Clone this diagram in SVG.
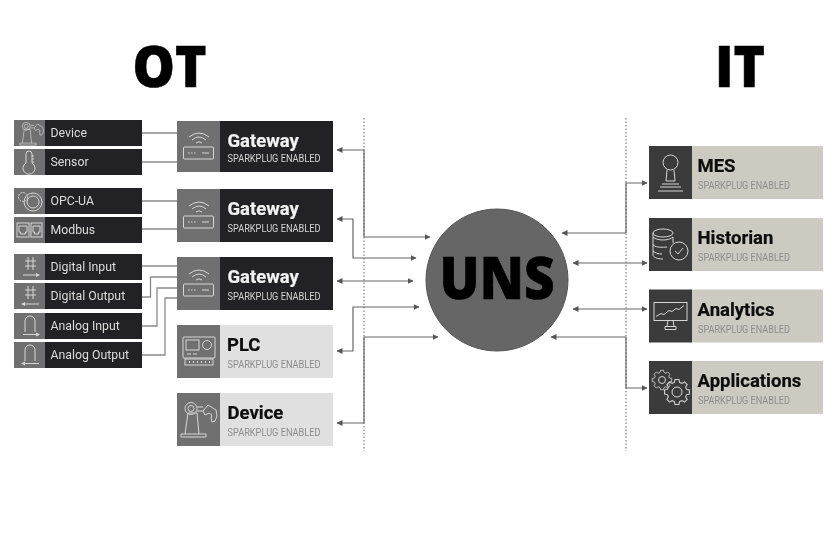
<svg xmlns="http://www.w3.org/2000/svg" xmlns:xlink="http://www.w3.org/1999/xlink" width="840" height="540" viewBox="0 0 840 540">
<style>
text{font-family:Roboto,"Liberation Sans",sans-serif}
.head{font-family:"Open Sans","Noto Sans","Liberation Sans",sans-serif;font-weight:800;font-size:56px;fill:#000;stroke:#000;stroke-width:.6}
.uns{font-size:58px}
.lbl{font-size:12.3px;fill:#dcdcdc}
.ttl{font-size:18.5px;font-weight:700;stroke-width:.2}
.sub{font-size:10px}
.dk .ttl{fill:#f2f2f2;stroke:#f2f2f2}.dk .sub{fill:#d4d4d4}
.lt .ttl,.it .ttl{fill:#0a0a0a;stroke:#0a0a0a}.lt .sub,.it .sub{fill:#8c8c8c}
.ic{fill:none;stroke:#d6d6d6;stroke-width:1}
.ib{fill:#707070}.tb{fill:#232326}.lg{fill:#e0e0e0}.ibi{fill:#3b3b3b}.ig{fill:#cdcbc1}
.wire{fill:none;stroke:#8a8a8a;stroke-width:1.300}
.arw{fill:none;stroke:#666;stroke-width:1.200;marker-end:url(#ah)}
.bi{marker-start:url(#ahs)}
.dot{fill:none;stroke:#666;stroke-width:1;stroke-dasharray:1.500 2}
</style>
<defs>
<filter id="soft" x="0" y="0" width="100%" height="100%"><feGaussianBlur stdDeviation="0.35"/></filter>
<marker id="ah" markerUnits="userSpaceOnUse" markerWidth="7" markerHeight="7" refX="5.500" refY="3" orient="auto"><path d="M0 0L6 3L0 6Z" fill="#555"/></marker>
<marker id="ahs" markerUnits="userSpaceOnUse" markerWidth="7" markerHeight="7" refX="0.500" refY="3" orient="auto"><path d="M6 0L0 3L6 6Z" fill="#555"/></marker>
<g id="router" class="ic">
<path d="M12 17Q22 9 32 17M15 20Q22 14 29 20M19 23Q22 20.500 25 23"/>
<rect x="6.500" y="27" width="30" height="12" rx="1"/>
<path d="M11 33h1.500M14 33h1.500M17 33h1.500M25 33h7"/>
</g>
<g id="arm" class="ic">
<path d="M1 35h25v-3H1zM5 32l3-21M19 32l-2-21M8 11h9"/>
<circle cx="11" cy="6.500" r="6"/><circle cx="11" cy="6.500" r="3"/>
<path d="M17 5h6M17 9h6"/>
<path d="M28 3l8 5 1 6-2 5-3 1-1-4 1-3-3-2-4 2-2-4z"/>
</g>
<path id="gear" d="M9.180 -2.460 11.850 -1.880 11.850 1.880 9.180 2.460 8.230 4.750 9.710 7.050 7.050 9.710 4.750 8.230 2.460 9.180 1.880 11.850 -1.880 11.850 -2.460 9.180 -4.750 8.230 -7.050 9.710 -9.710 7.050 -8.230 4.750 -9.180 2.460 -11.850 1.880 -11.850 -1.880 -9.180 -2.460 -8.230 -4.750 -9.710 -7.050 -7.050 -9.710 -4.750 -8.230 -2.460 -9.180 -1.880 -11.850 1.880 -11.850 2.460 -9.180 4.750 -8.230 7.050 -9.710 9.710 -7.050 8.230 -4.750Z"/>
<g id="digit" class="ic"><path d="M14 3v13M19 3v13M11 7h11M11 12h11"/></g>
<g id="arch" class="ic"><path d="M11 20V9a5 5 0 0 1 10 0V20"/></g>
</defs>
<rect width="840" height="540" fill="#fff"/>
<g filter="url(#soft)">
<text class="head" x="132.500" y="87" textLength="74" lengthAdjust="spacingAndGlyphs">OT</text>
<text class="head" x="715" y="87" textLength="50" lengthAdjust="spacingAndGlyphs">IT</text>

<g id="connectors">
<path class="dot" d="M364 118V451M626 118V451"/>
<path class="wire" d="M142 133H177M142 162H177M142 201H177M142 229H177M142 266H177M142 297H150.500V277H177M142 326H157V288H177M142 355H165V298H177"/>
<path class="arw" d="M364 237H430"/>
<path class="arw" d="M364 237V150H337"/>
<path class="arw bi" d="M337 219H353V258H416"/>
<path class="arw bi" d="M337 281H413"/>
<path class="arw bi" d="M337 351H353V307H419"/>
<path class="arw" d="M364 337H438"/>
<path class="arw" d="M364 337V423H337"/>
<path class="arw" d="M626 233H562"/>
<path class="arw" d="M626 233V183H647"/>
<path class="arw bi" d="M573 263H647"/>
<path class="arw bi" d="M573 309H647"/>
<path class="arw" d="M626 337H551"/>
<path class="arw" d="M626 337V388H647"/>
</g>

<g id="n-device-s" transform="translate(14 120)"><rect class="ib" width="31" height="26"/><rect class="tb" x="31" width="97" height="26"/>
<g transform="translate(5 2) scale(.66)"><use href="#arm"/></g><text class="lbl" x="36.500" y="17.200">Device</text></g>
<g id="n-sensor" transform="translate(14 149)"><rect class="ib" width="31" height="26"/><rect class="tb" x="31" width="97" height="26"/>
<path class="ic" d="M12 14V5a3 3 0 0 1 6 0V14a6 6 0 1 1-6 0zM18 7h2M18 10h2M18 13h2"/><text class="lbl" x="36.500" y="17.200">Sensor</text></g>
<g id="n-opcua" transform="translate(14 188)"><rect class="ib" width="31" height="26"/><rect class="tb" x="31" width="97" height="26"/>
<g class="ic"><circle cx="19" cy="14" r="9"/><circle cx="19" cy="14" r="6"/><circle cx="9" cy="9" r="4.500" stroke-dasharray="2 1"/></g><text class="lbl" x="36.500" y="17.200">OPC-UA</text></g>
<g id="n-modbus" transform="translate(14 217)"><rect class="ib" width="31" height="26"/><rect class="tb" x="31" width="97" height="26"/>
<g class="ic"><rect x="3" y="6" width="12" height="14"/><rect x="17" y="6" width="11" height="14"/><path d="M5 9h8v6h-1.500v2h-5v-2H5zM19 9h7v6h-1.500v2h-4v-2H19z"/></g><text class="lbl" x="36.500" y="17.200">Modbus</text></g>
<g id="n-di" transform="translate(14 254)"><rect class="ib" width="31" height="26"/><rect class="tb" x="31" width="97" height="26"/>
<use href="#digit"/><path class="ic" d="M9 21H23"/><path d="M22 19l4 2-4 2z" fill="#d6d6d6"/><text class="lbl" x="36.500" y="17.200">Digital Input</text></g>
<g id="n-do" transform="translate(14 283)"><rect class="ib" width="31" height="26"/><rect class="tb" x="31" width="97" height="26"/>
<use href="#digit"/><path class="ic" d="M11 21H25"/><path d="M11 19l-4 2 4 2z" fill="#d6d6d6"/><text class="lbl" x="36.500" y="17.200">Digital Output</text></g>
<g id="n-ai" transform="translate(14 313)"><rect class="ib" width="31" height="26"/><rect class="tb" x="31" width="97" height="26"/>
<use href="#arch" transform="translate(0 -1)"/><path class="ic" d="M9 21.500H23"/><path d="M22 19.500l4 2-4 2z" fill="#d6d6d6"/><text class="lbl" x="36.500" y="17.200">Analog Input</text></g>
<g id="n-ao" transform="translate(14 342)"><rect class="ib" width="31" height="26"/><rect class="tb" x="31" width="97" height="26"/>
<use href="#arch" transform="translate(0 -1)"/><path class="ic" d="M11 21.500H25"/><path d="M11 19.500l-4 2 4 2z" fill="#d6d6d6"/><text class="lbl" x="36.500" y="17.200">Analog Output</text></g>

<g id="n-gw1" class="dk" transform="translate(177 121)"><rect class="ib" width="43" height="51"/><rect class="tb" x="43" width="113" height="51"/><use href="#router" transform="translate(0 -1)"/>
<text class="ttl" x="50.500" y="26">Gateway</text><text class="sub" x="50.500" y="40.500" textLength="93" lengthAdjust="spacingAndGlyphs">SPARKPLUG ENABLED</text></g>
<g id="n-gw2" class="dk" transform="translate(177 189)"><rect class="ib" width="43" height="53"/><rect class="tb" x="43" width="113" height="53"/><use href="#router"/>
<text class="ttl" x="50.500" y="26">Gateway</text><text class="sub" x="50.500" y="43" textLength="93" lengthAdjust="spacingAndGlyphs">SPARKPLUG ENABLED</text></g>
<g id="n-gw3" class="dk" transform="translate(177 257)"><rect class="ib" width="43" height="53"/><rect class="tb" x="43" width="113" height="53"/><use href="#router"/>
<text class="ttl" x="50.500" y="26">Gateway</text><text class="sub" x="50.500" y="43" textLength="93" lengthAdjust="spacingAndGlyphs">SPARKPLUG ENABLED</text></g>
<g id="n-plc" class="lt" transform="translate(177 325)"><rect class="ib" width="43" height="53"/><rect class="lg" x="43" width="113" height="53"/>
<g class="ic"><rect x="6" y="12" width="32" height="21" rx="1"/><rect x="9" y="15" width="13" height="10"/><circle cx="30" cy="20" r="4.500"/><path d="M10 29h4M16 29h4"/><rect x="8" y="34" width="28" height="6"/><path d="M12 37h1M16 37h1M20 37h1M24 37h1M28 37h1M32 37h1" stroke-width="2"/></g>
<text class="ttl" x="50" y="26">PLC</text><text class="sub" x="50.500" y="43" textLength="93" lengthAdjust="spacingAndGlyphs">SPARKPLUG ENABLED</text></g>
<g id="n-device" class="lt" transform="translate(177 393)"><rect class="ib" width="43" height="53"/><rect class="lg" x="43" width="113" height="53"/>
<use href="#arm" transform="translate(3 9)"/>
<text class="ttl" x="50.500" y="26">Device</text><text class="sub" x="50.500" y="43" textLength="93" lengthAdjust="spacingAndGlyphs">SPARKPLUG ENABLED</text></g>

<g id="n-uns"><circle cx="497" cy="280" r="71" fill="#666" stroke="#555"/>
<text class="head uns" x="497" y="298.500" text-anchor="middle" textLength="115" lengthAdjust="spacingAndGlyphs">UNS</text></g>

<g id="n-mes" class="it" transform="translate(649 146)"><rect class="ibi" width="43" height="53"/><rect class="ig" x="43" width="131" height="53"/>
<g class="ic"><circle cx="21.500" cy="16.500" r="7.500"/><path d="M18 24l-1 11M25 24l1 11M17 35h9M13 38h17M11 41h21M9 45h25"/></g>
<text class="ttl" x="48.500" y="26">MES</text><text class="sub" x="49" y="43" textLength="92" lengthAdjust="spacingAndGlyphs">SPARKPLUG ENABLED</text></g>
<g id="n-historian" class="it" transform="translate(649 218)"><rect class="ibi" width="43" height="53"/><rect class="ig" x="43" width="131" height="53"/>
<g class="ic"><ellipse cx="14" cy="15" rx="10" ry="4"/><path d="M4 15V37C4 39 8 41 14 41M4 26C4 28 8 30 18 29M4 19C6 21 10 22 14 22C18 22 22 21 24 19V25"/><path d="M4 33C6 35 9 36 13 36"/><circle cx="30" cy="33" r="9"/><path d="M26 33l3 3 5-6"/></g>
<text class="ttl" x="48.500" y="26">Historian</text><text class="sub" x="49" y="43" textLength="92" lengthAdjust="spacingAndGlyphs">SPARKPLUG ENABLED</text></g>
<g id="n-analytics" class="it" transform="translate(649 289.500)"><rect class="ibi" width="43" height="53"/><rect class="ig" x="43" width="131" height="53"/>
<g class="ic"><rect x="5" y="13" width="33" height="18"/><path d="M7 27l5-3 3 1 5-4 3 1 4-3 3 1 5-4M19 31l-1 6h7l-1-6M16 40h11v-3H16z"/></g>
<text class="ttl" x="48.500" y="26">Analytics</text><text class="sub" x="49" y="43" textLength="92" lengthAdjust="spacingAndGlyphs">SPARKPLUG ENABLED</text></g>
<g id="n-applications" class="it" transform="translate(649 361)"><rect class="ibi" width="43" height="53"/><rect class="ig" x="43" width="131" height="53"/>
<g class="ic"><use href="#gear" transform="translate(13 19) scale(.82)"/><circle cx="13" cy="19" r="3.500"/><use href="#gear" transform="translate(28 31) scale(1.05)"/><circle cx="28" cy="31" r="5"/></g>
<text class="ttl" x="48.500" y="26">Applications</text><text class="sub" x="49" y="43" textLength="92" lengthAdjust="spacingAndGlyphs">SPARKPLUG ENABLED</text></g>
</g>
</svg>
